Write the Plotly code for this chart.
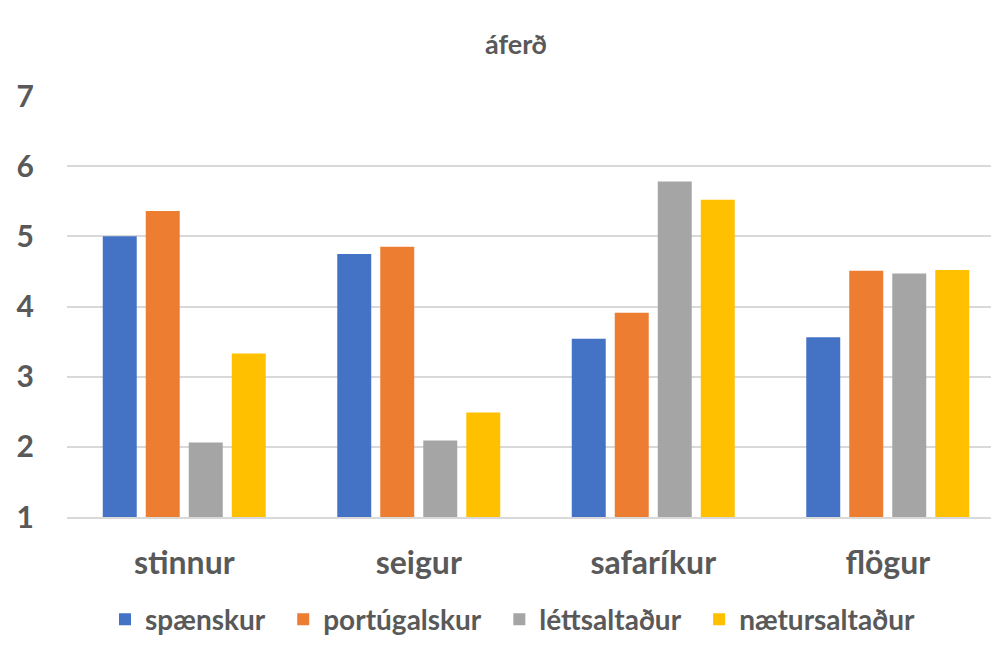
import plotly.graph_objects as go

categories = ["stinnur", "seigur", "safaríkur", "flögur"]
series_names = ["spænskur", "portúgalskur", "léttsaltaður", "nætursaltaður"]
spaenskur = [5.00, 4.75, 3.54, 3.56]
portugalskur = [5.36, 4.85, 3.91, 4.51]
lettsaltadur = [2.06, 2.09, 5.78, 4.47]
naetursaltadur = [3.33, 2.49, 5.52, 4.52]
colors = ["#4472C4", "#ED7D31", "#A5A5A5", "#FFC000"]
y_ticks = [1, 2, 3, 4, 5, 6, 7]
title_text = "áferð"

FONT = "Lato, 'Open Sans', sans-serif"
GRAY = "#595959"

# page body has an 8px margin, so the figure is offset by 8px right/down
OFF = 8
L, T, B = 67 - OFF, 96 - OFF, 650 - (517 - OFF)
PW = 999 - L
PH = 650 - T - B

fig = go.Figure()
for name, vals, col in zip(series_names,
                           [spaenskur, portugalskur, lettsaltadur, naetursaltadur],
                           colors):
    fig.add_trace(go.Bar(x=categories, y=vals,
                         name="<b>" + name + "</b>&nbsp;&nbsp;",
                         marker=dict(color=col, line=dict(width=0))))

fig.update_layout(
    width=999, height=650,
    paper_bgcolor="white", plot_bgcolor="white",
    margin=dict(l=L, r=0, t=T, b=B),
    barmode="group", bargap=0.2665, bargroupgap=0.21,
    font=dict(family=FONT, color=GRAY),
    title=dict(text="<b>" + title_text + "</b>", x=(516 - OFF) / 999, xanchor="center",
               y=1 - (45 - OFF) / 650, yanchor="middle",
               font=dict(family=FONT, size=27, color=GRAY, weight="bold")),
    showlegend=True,
    legend=dict(orientation="h", x=(519 - OFF - L) / PW, xanchor="center",
                y=-(619.5 - 517) / PH, yanchor="middle",
                font=dict(family=FONT, size=28, color=GRAY, weight="bold"),
                itemwidth=30, traceorder="normal"),
    xaxis=dict(range=[-0.5, -0.5 + PW / 234.5], showgrid=False, showline=True,
               linecolor="#D9D9D9", linewidth=2, ticks="",
               tickfont=dict(family=FONT, size=32, color=GRAY, weight="bold"),
               ticklabelstandoff=17, fixedrange=True),
    yaxis=dict(range=[1, 7], tickvals=y_ticks, showgrid=True,
               gridcolor="#D9D9D9", gridwidth=2, zeroline=False,
               showline=False, ticks="",
               tickfont=dict(family=FONT, size=30, color=GRAY, weight="bold"),
               ticklabelstandoff=32, fixedrange=True),
)

fig.write_html("out.html")
